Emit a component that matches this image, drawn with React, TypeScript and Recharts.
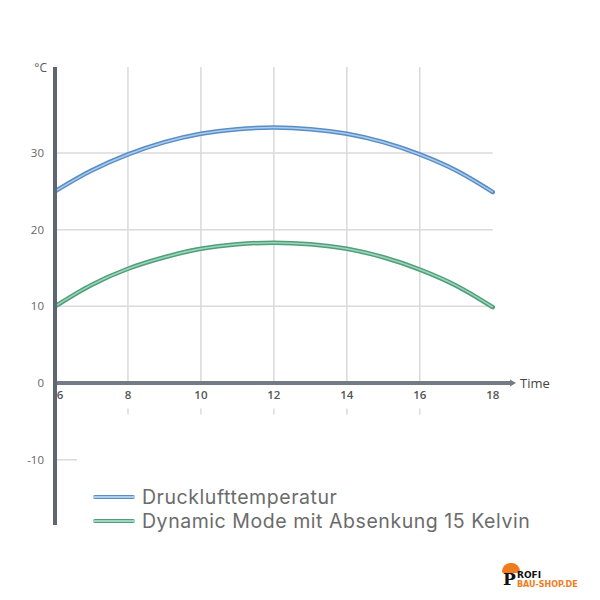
import {
  Legend,
  Line,
  LineChart,
  ReferenceDot,
  ReferenceLine,
  XAxis,
  YAxis,
} from "recharts";

const hours = [6, 7, 8, 9, 10, 11, 12, 13, 14, 15, 16, 17, 18];
const druckluft = [25, 27.7, 29.8, 31.4, 32.5, 33.1, 33.3, 33.1, 32.5, 31.4, 29.8, 27.7, 24.9];
const dynamicMode = [10, 12.8, 14.9, 16.4, 17.5, 18.1, 18.3, 18.1, 17.5, 16.4, 14.8, 12.7, 9.9];

const xTicks = [6, 8, 10, 12, 14, 16, 18];
const yTicks = [-10, 0, 10, 20, 30];
const gridX = [8, 10, 12, 14, 16];
const gridY = [10, 20, 30];

const data = hours.map((h, i) => ({ h, a: druckluft[i], b: dynamicMode[i] }));

const COLORS = {
  blue: "#5a8dc6",
  blueLight: "#abcdec",
  green: "#4f9f7c",
  greenLight: "#9fd5ba",
  axis: "#5e6771",
  grid: "#dadada",
  text: "#666",
};

const LIGHT: Record<string, string> = {
  [COLORS.blue]: COLORS.blueLight,
  [COLORS.green]: COLORS.greenLight,
};

function LegendContent({ payload }: any) {
  const items = (payload || []).filter((p: any) => p.type !== "none");
  return (
    <div style={{ fontFamily: "Inter", fontSize: 19.5, letterSpacing: 0.55, color: "#6b6b6b", lineHeight: "24px" }}>
      {items.map((p: any) => (
        <div key={p.value} style={{ display: "flex", alignItems: "center", height: 24 }}>
          <div
            style={{
              width: 42,
              height: 4,
              borderRadius: 2,
              background: p.color,
              marginRight: 7,
              display: "flex",
              alignItems: "center",
            }}
          >
            <div style={{ width: "100%", height: 1.5, background: LIGHT[p.color] }} />
          </div>
          <span>{p.value}</span>
        </div>
      ))}
    </div>
  );
}

export default function App() {
  return (
    <div style={{ position: "absolute", left: 0, top: 0, width: 600, height: 600, background: "#fff" }}>
      <LineChart width={600} height={600} data={data} margin={{ top: 67, right: 89, bottom: 75, left: 0 }}>
        <XAxis dataKey="h" type="number" domain={[6, 18.5]} hide allowDataOverflow />
        <YAxis
          type="number"
          domain={[-18.5, 41.2]}
          ticks={yTicks}
          width={55}
          allowDataOverflow
          axisLine={{ stroke: COLORS.axis, strokeWidth: 4 }}
          tickLine={false}
          tickMargin={5}
          tick={{ fill: COLORS.text, fontSize: 11.5, fontFamily: "Open Sans" }}
          label={{
            value: "°C",
            position: "insideTopRight",
            offset: 8,
            dy: -12,
            fill: "#555",
            fontSize: 12,
            fontFamily: "Open Sans",
          }}
        />

        {gridY.map((v) => (
          <ReferenceLine
            key={"gy" + v}
            segment={[{ x: 6, y: v }, { x: 18, y: v }]}
            stroke={COLORS.grid}
            strokeWidth={1.5}
          />
        ))}
        <ReferenceLine segment={[{ x: 6, y: -10 }, { x: 6.6, y: -10 }]} stroke={COLORS.grid} strokeWidth={1.5} />
        {gridX.map((v) => (
          <ReferenceLine
            key={"gx" + v}
            segment={[{ x: v, y: 0 }, { x: v, y: 41.2 }]}
            stroke={COLORS.grid}
            strokeWidth={1.5}
          />
        ))}
        {gridX.map((v) => (
          <ReferenceLine
            key={"gt" + v}
            segment={[{ x: v, y: -3.3 }, { x: v, y: -4.1 }]}
            stroke={COLORS.grid}
            strokeWidth={1.5}
          />
        ))}

        <ReferenceLine
          y={0}
          stroke="#737c86"
          strokeWidth={4}
          label={{ value: "Time", position: "right", offset: 9, fill: "#444", fontSize: 13, fontFamily: "Open Sans" }}
        />
        <ReferenceDot
          x={18.5}
          y={0}
          r={0}
          shape={(p: any) => (
            <path d={`M${p.cx - 1},${p.cy - 3.5} L${p.cx + 5},${p.cy} L${p.cx - 1},${p.cy + 3.5} Z`} fill="#737c86" />
          )}
        />
        {xTicks.map((t) => (
          <ReferenceDot
            key={"xt" + t}
            x={t}
            y={0}
            r={0}
            shape={(p: any) => (
              <text
                x={p.cx + (t === 6 ? 5 : 0)}
                y={p.cy + 16}
                textAnchor="middle"
                fill="#555"
                fontSize={11.5}
                fontWeight={600}
                fontFamily="Open Sans"
              >
                {t}
              </text>
            )}
          />
        ))}

        <Line
          dataKey="a"
          name="Drucklufttemperatur"
          type="monotone"
          stroke={COLORS.blue}
          strokeWidth={4.5}
          strokeLinecap="round"
          dot={false}
          isAnimationActive={false}
        />
        <Line
          dataKey="a"
          legendType="none"
          type="monotone"
          stroke={COLORS.blueLight}
          strokeWidth={1.5}
          dot={false}
          isAnimationActive={false}
        />
        <Line
          dataKey="b"
          name="Dynamic Mode mit Absenkung 15 Kelvin"
          type="monotone"
          stroke={COLORS.green}
          strokeWidth={4.5}
          strokeLinecap="round"
          dot={false}
          isAnimationActive={false}
        />
        <Line
          dataKey="b"
          legendType="none"
          type="monotone"
          stroke={COLORS.greenLight}
          strokeWidth={1.5}
          dot={false}
          isAnimationActive={false}
        />

        <Legend
          layout="vertical"
          align="center"
          verticalAlign="middle"
          content={<LegendContent />}
          wrapperStyle={{ left: 93, top: 485, width: 490, height: 50 }}
        />
      </LineChart>

      <div style={{ position: "absolute", left: 500, top: 563, width: 100, height: 30, fontFamily: "DejaVu Sans", fontWeight: 700 }}>
        <div style={{ position: "absolute", left: 2, top: 0, width: 18, height: 10, borderRadius: "10px 10px 2px 2px", background: "#f07c1e" }} />
        <span style={{ position: "absolute", left: 3, top: 7, fontSize: 17, lineHeight: "18px", color: "#111", fontFamily: "DejaVu Serif" }}>P</span>
        <span style={{ position: "absolute", left: 17, top: 8, fontSize: 9, lineHeight: "9px", color: "#111" }}>ROFI</span>
        <span style={{ position: "absolute", left: 17, top: 18, fontSize: 8, lineHeight: "8px", color: "#f07c1e" }}>BAU-SHOP.DE</span>
      </div>
    </div>
  );
}
